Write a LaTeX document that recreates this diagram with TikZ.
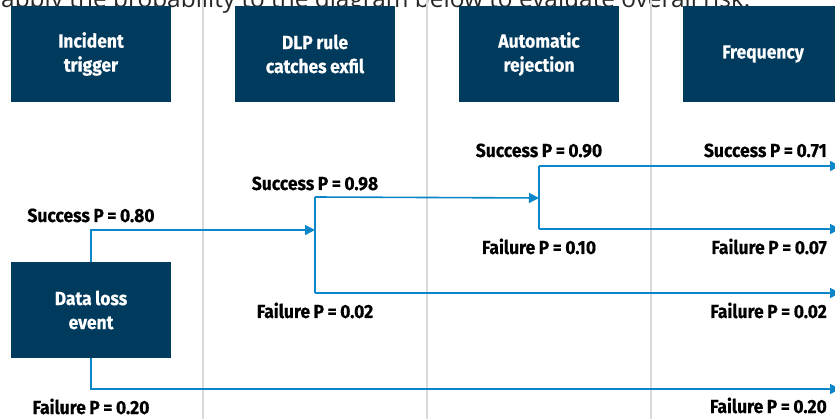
\documentclass[tikz,border=0pt]{standalone}
\usepackage{fontspec}
\setmainfont{Open Sans}
\newfontfamily\labelfont{Fira Sans}[FakeStretch=0.92,WordSpace=0.85,BoldFeatures={FakeBold=0.4}]
\usetikzlibrary{arrows.meta}
\definecolor{navy}{HTML}{003A5D}
\definecolor{flowblue}{HTML}{0A86C9}
\definecolor{rulegray}{HTML}{D9D9D9}

\begin{document}
\begin{tikzpicture}[x=1pt,y=-1pt]
\tikzstyle{every node}+=[inner sep=0pt]
\tikzstyle{hdr}=[fill=navy,text=white,minimum width=160pt,minimum height=96pt,align=center,font=\labelfont\bfseries\fontsize{19}{24}\selectfont]
\tikzstyle{prob}=[font=\labelfont\bfseries\fontsize{19}{22}\selectfont,text=black]
\tikzstyle{flow}=[flowblue,line width=1.6pt]
\tikzstyle{tip}=[-{Triangle[length=10pt,width=10pt]}]
\useasboundingbox (0,0) rectangle (835,419);
\clip (0,0) rectangle (835,419);
% cut-off lead-in sentence
\node [anchor=base west,font=\fontsize{24.4}{28}\selectfont,text=black!85] (intro) at (1,8) {apply the probability to the diagram below to evaluate overall risk.};
% column rules
\draw [rulegray,line width=2pt] (203,0) -- (203,419);
\draw [rulegray,line width=2pt] (427,0) -- (427,419);
\draw [rulegray,line width=2pt] (651,0) -- (651,419);
% headers
\node [hdr] (h1) at (91,54) {Incident\\trigger};
\node [hdr] (h2) at (315,54) {DLP rule\\catches exfil};
\node [hdr] (h3) at (539,54) {Automatic\\rejection};
\node [hdr] (h4) at (763,54) {Frequency};
% event
\node [hdr] (loss) at (91,310) {Data loss\\event};
% branch points
\coordinate (j2) at (315,230);
\coordinate (j2s) at (315,197);
\coordinate (j2f) at (315,293);
\coordinate (j3) at (539,198);
\coordinate (j3s) at (539,166);
\coordinate (j3f) at (539,229);
\coordinate (e1) at (840,166);
\coordinate (e2) at (840,229);
\coordinate (e3) at (840,293);
\coordinate (e4) at (840,389);
% connectors
\draw [flow,tip] (loss.north) |- (j2);
\draw [flow,tip] (loss.south) |- (e4);
\draw [flow] (j2s) -- (j2f);
\draw [flow,tip] (j2s) -- (j3);
\draw [flow,tip] (j2f) -- (e3);
\draw [flow] (j3s) -- (j3f);
\draw [flow,tip] (j3s) -- (e1);
\draw [flow,tip] (j3f) -- (e2);
% probabilities
\node [prob,anchor=base] (p1s) at (91,222) {Success P = 0.80};
\node [prob,anchor=base] (p1f) at (91,414) {Failure P = 0.20};
\node [prob,anchor=base] (p2s) at (315,190) {Success P = 0.98};
\node [prob,anchor=base] (p2f) at (315,318) {Failure P = 0.02};
\node [prob,anchor=base] (p3s) at (539,157) {Success P = 0.90};
\node [prob,anchor=base] (p3f) at (539,254) {Failure P = 0.10};
\node [prob,anchor=base east] (f1) at (827,157) {Success P = 0.71};
\node [prob,anchor=base east] (f2) at (827,254) {Failure P = 0.07};
\node [prob,anchor=base east] (f3) at (827,318) {Failure P = 0.02};
\node [prob,anchor=base east] (f4) at (827,413) {Failure P = 0.20};
\end{tikzpicture}
\end{document}
